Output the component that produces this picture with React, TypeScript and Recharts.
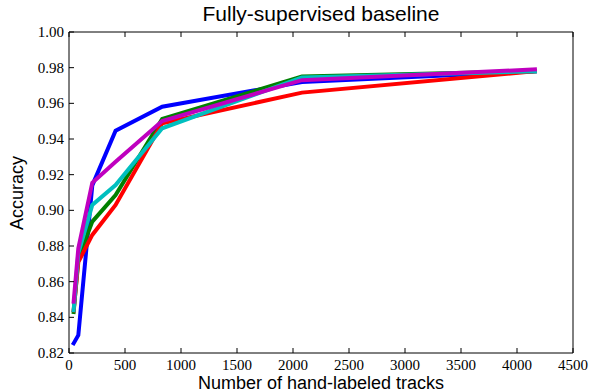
import { LineChart, Line, XAxis, YAxis } from "recharts";

// x positions: number of hand-labeled tracks (1%, 2%, 5%, 10%, 20%, 50%, 100% of 4160)
const tracks = [41.6, 83.2, 208, 416, 832, 2080, 4160];

const blue = [0.8254, 0.83, 0.914, 0.9447, 0.9581, 0.972, 0.978];
const green = [0.843, 0.873, 0.8937, 0.9086, 0.9512, 0.975, 0.978];
const red = [0.844, 0.871, 0.8862, 0.903, 0.9488, 0.966, 0.978];
const cyan = [0.844, 0.876, 0.903, 0.9142, 0.946, 0.9745, 0.978];
const magenta = [0.8488, 0.8787, 0.9155, 0.9273, 0.9501, 0.973, 0.979];

const xTicks = [0, 500, 1000, 1500, 2000, 2500, 3000, 3500, 4000, 4500];
const yTicks = [0.82, 0.84, 0.86, 0.88, 0.9, 0.92, 0.94, 0.96, 0.98, 1.0];

const data = tracks.map((t, i) => ({
  tracks: t,
  blue: blue[i],
  green: green[i],
  red: red[i],
  cyan: cyan[i],
  magenta: magenta[i],
}));

const series = [
  { key: "blue", color: "#0000ff" },
  { key: "green", color: "#008000" },
  { key: "red", color: "#ff0000" },
  { key: "cyan", color: "#00bfbf" },
  { key: "magenta", color: "#bf00bf" },
];

const serif = "Liberation Serif, serif";
const sans = "Liberation Sans, Arial, sans-serif";
const TICK = 5;

function BottomTick({ x, y, payload }: any) {
  return (
    <g>
      <line x1={x} y1={y} x2={x} y2={y - TICK} stroke="#000" />
      <text
        x={x}
        y={y + 17}
        textAnchor="middle"
        fontFamily={serif}
        style={{ fontFamily: serif, fontSize: 15 }}
        fill="#000"
      >
        {payload.value}
      </text>
    </g>
  );
}

function TopTick({ x, y }: any) {
  return <line x1={x} y1={y} x2={x} y2={y + TICK} stroke="#000" />;
}

function LeftTick({ x, y, payload }: any) {
  return (
    <g>
      <line x1={x} y1={y} x2={x + TICK} y2={y} stroke="#000" />
      <text
        x={x - 5}
        y={y + 5}
        textAnchor="end"
        fontFamily={serif}
        style={{ fontFamily: serif, fontSize: 15 }}
        fill="#000"
      >
        {payload.value.toFixed(2)}
      </text>
    </g>
  );
}

function RightTick({ x, y }: any) {
  return <line x1={x} y1={y} x2={x - TICK} y2={y} stroke="#000" />;
}

export default function App() {
  return (
    <div
      style={{
        position: "absolute",
        left: 0,
        top: 0,
        width: 595,
        height: 392,
        background: "#fff",
        fontFamily: serif,
      }}
    >
      <LineChart
        width={595}
        height={392}
        data={data}
        margin={{ top: 31, right: 21, bottom: 19, left: 29 }}
        style={{ fontFamily: serif }}
      >
        <XAxis
          dataKey="tracks"
          type="number"
          domain={[0, 4500]}
          ticks={xTicks}
          tickSize={0}
          tickMargin={0}
          height={20}
          tickLine={false}
          axisLine={{ stroke: "#000" }}
          tick={BottomTick}
          interval={0}
        />
        <XAxis
          xAxisId="top"
          orientation="top"
          dataKey="tracks"
          type="number"
          domain={[0, 4500]}
          ticks={xTicks}
          tickSize={0}
          tickMargin={0}
          height={1}
          tickLine={false}
          axisLine={{ stroke: "#000" }}
          tick={TopTick}
          interval={0}
        />
        <YAxis
          type="number"
          domain={[0.82, 1.0]}
          ticks={yTicks}
          tickSize={0}
          tickMargin={0}
          width={40}
          tickLine={false}
          axisLine={{ stroke: "#000" }}
          tick={LeftTick}
          interval={0}
        />
        <YAxis
          yAxisId="right"
          orientation="right"
          type="number"
          domain={[0.82, 1.0]}
          ticks={yTicks}
          tickSize={0}
          tickMargin={0}
          width={1}
          tickLine={false}
          axisLine={{ stroke: "#000" }}
          tick={RightTick}
          interval={0}
        />
        {series.map((s) => (
          <Line
            key={s.key}
            dataKey={s.key}
            stroke={s.color}
            strokeWidth={4}
            strokeLinecap="square"
            dot={false}
            type="linear"
            isAnimationActive={false}
          />
        ))}
        <text x={321} y={21} textAnchor="middle" style={{ fontFamily: sans }} fontSize={21} fill="#000">
          Fully-supervised baseline
        </text>
        <text x={321} y={389} textAnchor="middle" style={{ fontFamily: sans }} fontSize={18} fill="#000">
          Number of hand-labeled tracks
        </text>
        <text
          x={0}
          y={0}
          transform="translate(23 193) rotate(-90)"
          textAnchor="middle"
          style={{ fontFamily: sans }}
          fontSize={18}
          fill="#000"
        >
          Accuracy
        </text>
      </LineChart>
    </div>
  );
}
